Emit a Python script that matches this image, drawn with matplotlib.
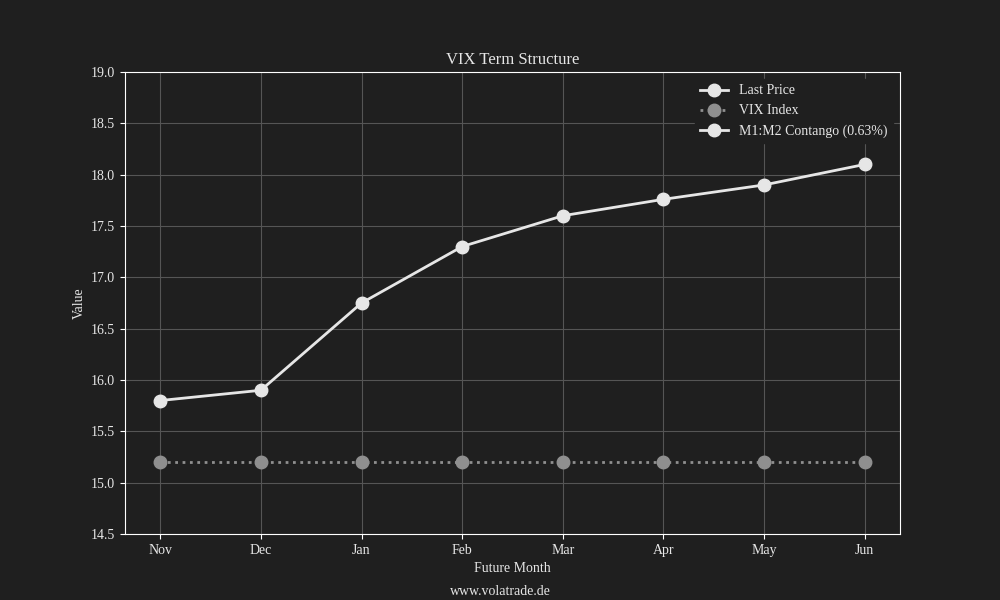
import matplotlib
matplotlib.use("Agg")
import matplotlib.pyplot as plt

months = ["Nov", "Dec", "Jan", "Feb", "Mar", "Apr", "May", "Jun"]
last_price = [15.8, 15.9, 16.75, 17.3, 17.6, 17.76, 17.9, 18.1]
vix_index = [15.2, 15.2, 15.2, 15.2, 15.2, 15.2, 15.2, 15.2]
contango_label = "M1:M2 Contango (0.63%)"

plt.rcParams['font.family'] = ['Liberation Serif', 'DejaVu Serif']
bg = '#1f1f1f'
fig, ax = plt.subplots(figsize=(10, 6), dpi=100)
fig.patch.set_facecolor(bg)
ax.set_facecolor(bg)

x = list(range(len(months)))
ax.plot(x, last_price, color='#e6e6e6', lw=2, marker='o', ms=9, label='Last Price', zorder=3)
ax.plot(x, vix_index, color='#8f8f8f', lw=2, ls=':', marker='o', ms=9, label='VIX Index', zorder=3)
ax.plot([], [], color='#e6e6e6', lw=2, marker='o', ms=9, label=contango_label)

ax.set_xticks(x)
ax.set_xticklabels(months)
ax.set_ylim(14.5, 19.0)
ax.set_yticks([14.5, 15.0, 15.5, 16.0, 16.5, 17.0, 17.5, 18.0, 18.5, 19.0])
ax.grid(True, color='#555555', lw=0.8)
ax.set_axisbelow(True)
for s in ax.spines.values():
    s.set_color('white')
ax.tick_params(colors='white', labelcolor='#e6e6e6', labelsize=10)
ax.set_title('VIX Term Structure', color='#e6e6e6', fontsize=12)
ax.set_xlabel('Future Month', color='#e6e6e6', fontsize=10)
ax.set_ylabel('Value', color='#e6e6e6', fontsize=10)
leg = ax.legend(loc='upper right', facecolor=bg, edgecolor=bg, fontsize=10, framealpha=1)
for t in leg.get_texts():
    t.set_color('#e6e6e6')
fig.text(0.5, 0.014, 'www.volatrade.de', ha='center', va='center', color='#e6e6e6', fontsize=10)
fig.savefig('out.png', facecolor=bg)
